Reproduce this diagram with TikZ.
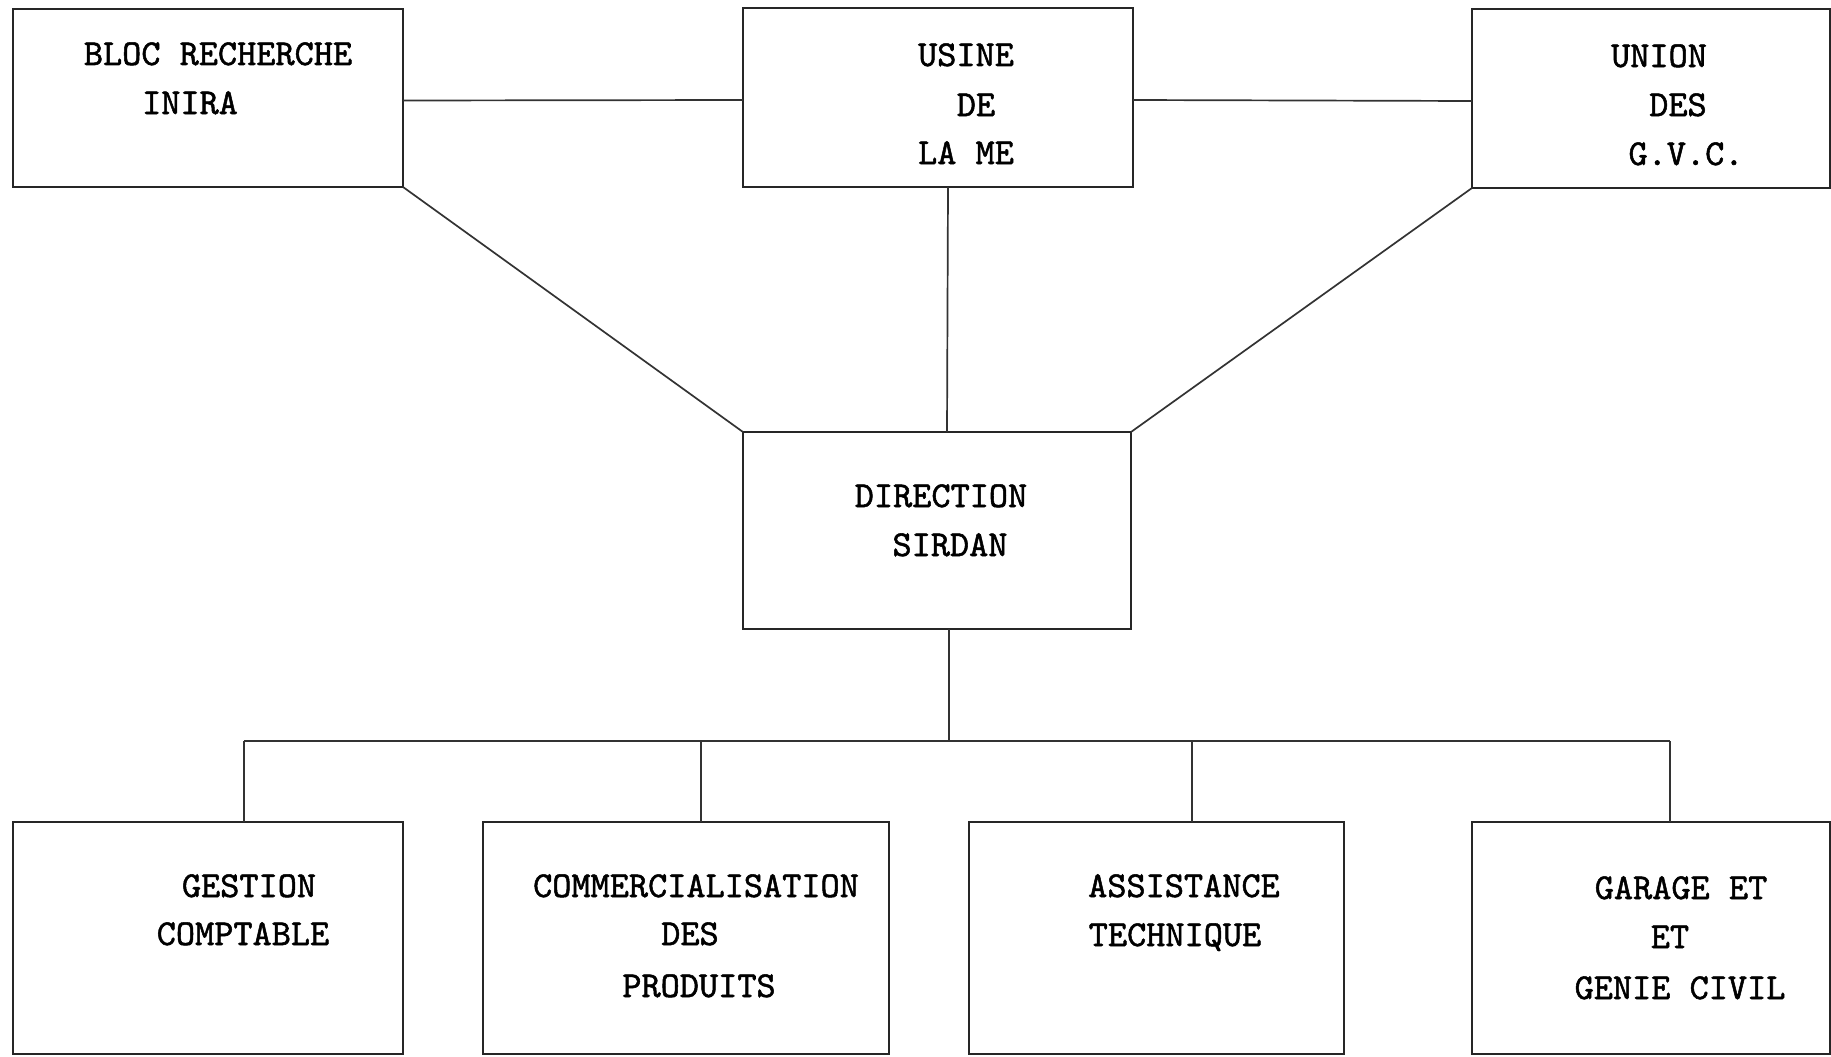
\documentclass[tikz,border=0pt]{standalone}
\usepackage{fontspec}
\newfontfamily\twfont{lmmono10-regular.otf}[FakeBold=1.4,FakeStretch=1.0]
\begin{document}
\begin{tikzpicture}[x=1pt,y=-1pt,
  box/.style={draw=black!85,line width=1.7pt,rectangle,anchor=north west,inner sep=0pt,outer sep=0pt},
  lbl/.style={anchor=base,inner sep=0pt,font=\twfont\fontsize{36.5}{42}\selectfont,text=black},
  conn/.style={draw=black!80,line width=1.7pt}]
\useasboundingbox[fill=white] (0,0) rectangle (1831,1057);
% boxes
\node[box,minimum width=390pt,minimum height=178pt] (bloc) at (13,9) {};
\node[box,minimum width=390pt,minimum height=179pt] (usine) at (743,8) {};
\node[box,minimum width=358pt,minimum height=179pt] (union) at (1472,9) {};
\node[box,minimum width=388pt,minimum height=197pt] (dir) at (743,432) {};
\node[box,minimum width=390pt,minimum height=232pt] (gest) at (13,822) {};
\node[box,minimum width=406pt,minimum height=232pt] (comm) at (483,822) {};
\node[box,minimum width=375pt,minimum height=232pt] (assist) at (969,822) {};
\node[box,minimum width=358pt,minimum height=232pt] (garage) at (1472,822) {};
% texts
\node[lbl] (t1) at (218,65) {BLOC RECHERCHE};
\node[lbl] (t2) at (190,114) {INIRA};
\node[lbl] (t3) at (966,66) {USINE};
\node[lbl] (t4) at (976,116) {DE};
\node[lbl] (t5) at (966,164) {LA ME};
\node[lbl] (t6) at (1659,67) {UNION};
\node[lbl] (t7) at (1678,116) {DES};
\node[lbl] (t8) at (1686,165) {G.V.C.};
\node[lbl] (t9) at (941,507) {DIRECTION};
\node[lbl] (t10) at (950,556) {SIRDAN};
\node[lbl] (t11) at (249,897) {GESTION};
\node[lbl] (t12) at (243,945) {COMPTABLE};
\node[lbl] (t13) at (696,897) {COMMERCIALISATION};
\node[lbl] (t14) at (690,945) {DES};
\node[lbl] (t15) at (699,997) {PRODUITS};
\node[lbl] (t16) at (1184,897) {ASSISTANCE};
\node[lbl] (t17) at (1175,946) {TECHNIQUE};
\node[lbl] (t18) at (1681,899) {GARAGE ET};
\node[lbl] (t19) at (1670,948) {ET};
\node[lbl] (t20) at (1680,999) {GENIE CIVIL};
% connectors top
\draw[conn] ([yshift=-2.5pt]bloc.east) -- ([yshift=-2.5pt]usine.west);
\draw[conn] ([yshift=-2.5pt]usine.east) -- ([yshift=-2.5pt]union.west);
\draw[conn] ([xshift=10pt]usine.south) -- ([xshift=10pt]dir.north);
\draw[conn] (bloc.south east) -- (dir.north west);
\draw[conn] (union.south west) -- (dir.north east);
% bus
\coordinate (j) at (949,741);
\coordinate (b1) at (244,741);
\coordinate (b2) at (701,741);
\coordinate (b3) at (1192,741);
\coordinate (b4) at (1670,741);
\draw[conn] ([xshift=12pt]dir.south) -- (j);
\draw[conn] (b1) -- (b4);
\draw[conn] (b1) -- (b1 |- gest.north);
\draw[conn] (b2) -- (b2 |- comm.north);
\draw[conn] (b3) -- (b3 |- assist.north);
\draw[conn] (b4) -- (b4 |- garage.north);
\end{tikzpicture}
\end{document}
